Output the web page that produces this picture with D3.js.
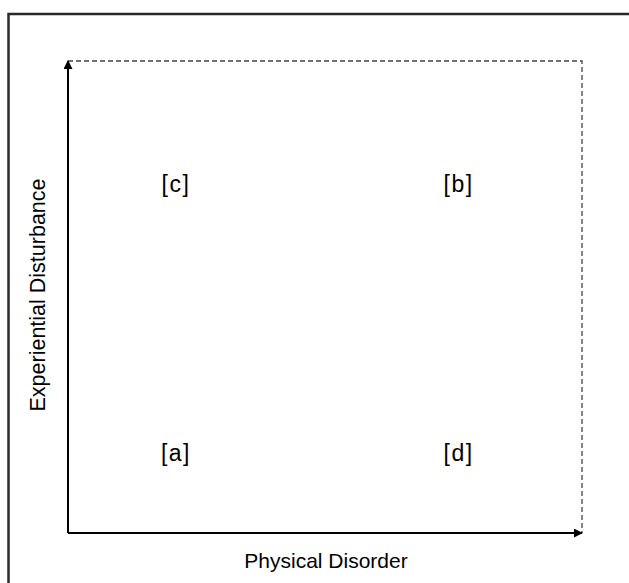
<!DOCTYPE html>
<html>
<head>
<script src="https://d3js.org/d3.v7.min.js"></script>
</head>
<body style="margin:0">
<script>

// quadrant labels, positioned in 0..1 units of each axis
quadrants = ['[a]', '[b]', '[c]', '[d]']
quadX = [0.21, 0.76, 0.21, 0.76]
quadY = [0.17, 0.74, 0.74, 0.17]

xTitle = 'Physical Disorder'
yTitle = 'Experiential Disturbance'

width = 629
height = 583

x = d3.scaleLinear().domain([0, 1]).range([68, 582])
y = d3.scaleLinear().domain([0, 1]).range([533, 61])

const svg = d3.select('body').append('svg')
    .attr('width', width)
    .attr('height', height)
    .style('font-family', 'Arial, "Liberation Sans", sans-serif')

svg.append('rect').attr('width', width).attr('height', height).attr('fill', '#fff')

// frame: only left & top show, rest runs off the picture
svg.append('path')
    .attr('d', `M8.5,${height} V14 H${width}`)
    .attr('fill', 'none')
    .attr('stroke', '#2a2a2a')
    .attr('stroke-width', 2.5)

const defs = svg.append('defs')
defs.append('marker')
    .attr('id', 'arrow')
    .attr('viewBox', '0 0 10 10')
    .attr('refX', 9).attr('refY', 5)
    .attr('markerWidth', 4.5).attr('markerHeight', 4.5)
    .attr('orient', 'auto')
  .append('path')
    .attr('d', 'M0,0 L10,5 L0,10 z')
    .attr('fill', '#000')

// dashed box top & right
svg.append('path')
    .attr('d', `M${x(0)},${y(1)} H${x(1)} V${y(0)}`)
    .attr('fill', 'none')
    .attr('stroke', '#444')
    .attr('stroke-width', 1.3)
    .attr('stroke-dasharray', '5,3')

// axes with arrows
svg.append('line')
    .attr('x1', x(0)).attr('y1', y(0))
    .attr('x2', x(1)).attr('y2', y(0))
    .attr('stroke', '#000').attr('stroke-width', 2)
    .attr('marker-end', 'url(#arrow)')

svg.append('line')
    .attr('x1', x(0)).attr('y1', y(0))
    .attr('x2', x(0)).attr('y2', y(1))
    .attr('stroke', '#000').attr('stroke-width', 2)
    .attr('marker-end', 'url(#arrow)')

svg.selectAll('text.quad')
  .data(quadrants)
  .join('text')
    .attr('class', 'quad')
    .attr('x', (d, i) => x(quadX[i]))
    .attr('y', (d, i) => y(quadY[i]))
    .attr('dy', '0.35em')
    .attr('text-anchor', 'middle')
    .style('font-size', '23px')
    .style('letter-spacing', '1.5px')
    .text(d => d)

svg.append('text')
    .attr('x', 326)
    .attr('y', 568)
    .attr('text-anchor', 'middle')
    .style('font-size', '21px')
    .text(xTitle)

svg.append('text')
    .attr('transform', 'translate(45,295) rotate(-90)')
    .attr('text-anchor', 'middle')
    .style('font-size', '21.5px')
    .text(yTitle)

</script>
</body>
</html>
